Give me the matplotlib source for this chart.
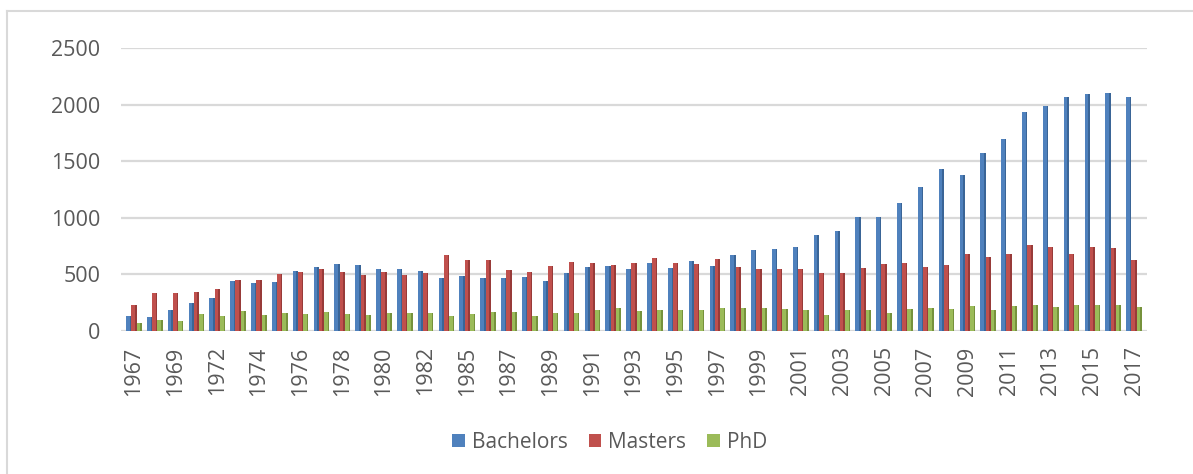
import matplotlib
matplotlib.use("Agg")
import matplotlib.pyplot as plt
from matplotlib.lines import Line2D
import numpy as np

years = [1967, 1968, 1969, 1970, 1972, 1973, 1974, 1975, 1976, 1977, 1978, 1979,
         1980, 1981, 1982, 1984, 1985, 1986, 1987, 1988, 1989, 1990, 1991, 1992,
         1993, 1994, 1995, 1996, 1997, 1998, 1999, 2000, 2001, 2002, 2003, 2004,
         2005, 2006, 2007, 2008, 2009, 2010, 2011, 2012, 2013, 2014, 2015, 2016, 2017]

bachelors = [129, 124, 188, 250, 291, 438, 426, 429, 529, 564, 591, 579,
             547, 547, 529, 470, 482, 465, 470, 476, 441, 515, 564, 570,
             547, 603, 559, 614, 570, 673, 717, 720, 744, 850, 879, 1011,
             1005, 1132, 1276, 1429, 1379, 1576, 1699, 1934, 1990, 2067, 2093, 2099, 2070]

masters = [226, 335, 338, 344, 370, 447, 450, 500, 517, 550, 517, 497,
           517, 491, 515, 673, 629, 623, 538, 523, 573, 609, 600, 582,
           603, 644, 597, 594, 635, 562, 544, 547, 544, 509, 515, 553,
           594, 597, 562, 582, 676, 653, 676, 764, 744, 682, 744, 729, 629]

phd = [68, 94, 85, 147, 135, 176, 141, 162, 147, 170, 153, 141,
       159, 162, 162, 135, 148, 170, 165, 135, 159, 156, 185, 203,
       179, 182, 188, 185, 200, 200, 200, 197, 188, 141, 188, 182,
       156, 197, 203, 197, 218, 188, 220, 229, 215, 226, 232, 232, 212]

series_names = ["Bachelors", "Masters", "PhD"]
colors = ["#4F81BD", "#C0504D", "#9BBB59"]
side_colors = ["#3A6597", "#983B39", "#76923C"]
yticks = [0, 500, 1000, 1500, 2000, 2500]

plt.rcParams['font.family'] = ['Open Sans', 'DejaVu Sans']
text_color = "#595959"

fig = plt.figure(figsize=(11.93, 4.74), dpi=100)
ax = fig.add_axes([121/1193, 1 - 331/474, (1147-121)/1193, (331-48)/474])

x = np.arange(len(years))
w = 0.25
offsets = [-0.25, 0.0, 0.25]
for vals, off, c, sc, name in zip([bachelors, masters, phd], offsets, colors, side_colors, series_names):
    ax.bar(x + off, vals, width=w, color=c, edgecolor="none", label=name, zorder=3)
    ax.bar(x + off + w*0.35, vals, width=w*0.3, color=sc, edgecolor="none", zorder=3.5)

ax.set_xlim(-0.62, len(years) - 1 + 0.62)
ax.set_ylim(0, 2500)
ax.set_yticks(yticks)
ax.set_yticklabels([str(v) for v in yticks])
ax.set_xticks(x[::2])
ax.set_xticklabels([str(y) for y in years[::2]], rotation=90)
ax.tick_params(axis='x', length=0, pad=11, labelsize=15.5, colors=text_color)
ax.tick_params(axis='y', length=0, pad=15, labelsize=15.5, colors=text_color)
ax.grid(axis='y', color="#D9D9D9", linewidth=1.6, zorder=0)
ax.set_axisbelow(True)
for s in ax.spines.values():
    s.set_visible(False)

leg = fig.legend(loc='center', bbox_to_anchor=(0.511, 1 - 442/474), ncol=3, frameon=False,
                 fontsize=15, handlelength=0.6, handleheight=0.6, handletextpad=0.35,
                 columnspacing=1.0)
for t in leg.get_texts():
    t.set_color(text_color)

# chart border (left and top edges visible)
fig.add_artist(Line2D([7.5/1193, 7.5/1193], [0, 1 - 10.5/474], transform=fig.transFigure,
                      color="#D9D9D9", linewidth=1.5))
fig.add_artist(Line2D([7.5/1193, 1.0], [1 - 10.5/474, 1 - 10.5/474], transform=fig.transFigure,
                      color="#D9D9D9", linewidth=1.5))

fig.savefig("out.png", dpi=100)
